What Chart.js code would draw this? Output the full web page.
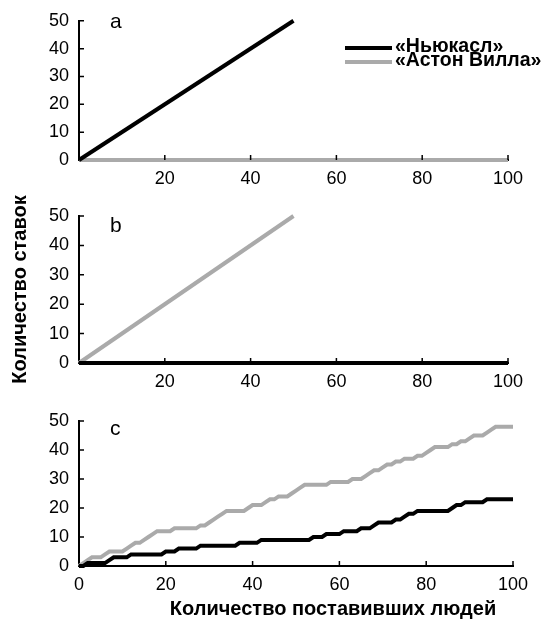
<!DOCTYPE html>
<html>
<head>
<meta charset="utf-8">
<script src="https://cdn.jsdelivr.net/npm/chart.js@4.4.1/dist/chart.umd.min.js"></script>
<style>
  body { margin: 0; background: #fff; }
  #wrap { position: relative; width: 550px; height: 640px; }
  .panel { position: absolute; left: 0; width: 550px; }
</style>
</head>
<body>
<div id="wrap">
  <div class="panel" style="top:0;height:200px"><canvas id="chartA"></canvas></div>
  <div class="panel" style="top:400px;height:240px"><canvas id="chartC"></canvas></div>
  <div class="panel" style="top:170px;height:240px"><canvas id="chartB"></canvas></div>
</div>
<script>
var teamNames = ['«Ньюкасл»', '«Астон Вилла»'];
var teamColors = ['#000000', '#aaaaaa'];
var panelLetters = ['a', 'b', 'c'];
var yTickValues = [0, 10, 20, 30, 40, 50];
var xTickValues = [0, 20, 40, 60, 80, 100];
var yTitle = 'Количество ставок';
var xTitle = 'Количество поставивших людей';

// panels a and b: everyone backs the same team
var allOneTeamX = [0, 50];
var allOneTeamY = [0, 50];
var nobodyX = [0, 100];
var nobodyY = [0, 0];

// panel c: running totals of bets
var people = [0, 1, 2, 3, 4, 5, 6, 7, 8, 9,
  10, 11, 12, 13, 14, 15, 16, 17, 18, 19,
  20, 21, 22, 23, 24, 25, 26, 27, 28, 29,
  30, 31, 32, 33, 34, 35, 36, 37, 38, 39,
  40, 41, 42, 43, 44, 45, 46, 47, 48, 49,
  50, 51, 52, 53, 54, 55, 56, 57, 58, 59,
  60, 61, 62, 63, 64, 65, 66, 67, 68, 69,
  70, 71, 72, 73, 74, 75, 76, 77, 78, 79,
  80, 81, 82, 83, 84, 85, 86, 87, 88, 89,
  90, 91, 92, 93, 94, 95, 96, 97, 98, 99, 100];
var newcastleBets = [0, 0, 1, 1, 1, 1, 1, 2, 3, 3,
  3, 3, 4, 4, 4, 4, 4, 4, 4, 4,
  5, 5, 5, 6, 6, 6, 6, 6, 7, 7,
  7, 7, 7, 7, 7, 7, 7, 8, 8, 8,
  8, 8, 9, 9, 9, 9, 9, 9, 9, 9,
  9, 9, 9, 9, 10, 10, 10, 11, 11, 11,
  11, 12, 12, 12, 12, 13, 13, 13, 14, 15,
  15, 15, 15, 16, 16, 17, 18, 18, 19, 19,
  19, 19, 19, 19, 19, 19, 20, 21, 21, 22,
  22, 22, 22, 22, 23, 23, 23, 23, 23, 23, 23];
var villaBets = [0, 1, 2, 3, 3, 3, 4, 5, 5, 5,
  5, 6, 7, 8, 8, 9, 10, 11, 12, 12,
  12, 12, 13, 13, 13, 13, 13, 13, 14, 14,
  15, 16, 17, 18, 19, 19, 19, 19, 19, 20,
  21, 21, 21, 22, 23, 23, 24, 24, 24, 25,
  26, 27, 28, 28, 28, 28, 28, 28, 29, 29,
  29, 29, 29, 30, 30, 30, 31, 32, 33, 33,
  34, 35, 35, 36, 36, 37, 37, 37, 38, 38,
  39, 40, 41, 41, 41, 41, 42, 42, 43, 43,
  44, 45, 45, 45, 46, 47, 48, 48, 48, 48, 48];

var FONT = "'Liberation Sans', Arial, Helvetica, sans-serif";
Chart.defaults.font.family = FONT;
Chart.defaults.color = '#000';

function points(xs, ys) {
  return xs.map(function (x, i) { return { x: x, y: ys[i] }; });
}

// letters, inward tick marks, legend and x title
var panelDecor = {
  id: 'panelDecor',
  afterDraw: function (chart, args, opts) {
    var ctx = chart.ctx;
    var xs = chart.scales.x, ys = chart.scales.y;
    var area = chart.chartArea;
    ctx.save();
    ctx.strokeStyle = '#000';
    ctx.lineWidth = 1.5;
    ctx.beginPath();
    xTickValues.forEach(function (v) {
      if (v === 0) return;
      var px = xs.getPixelForValue(v);
      ctx.moveTo(px, area.bottom);
      ctx.lineTo(px, area.bottom - 5);
    });
    yTickValues.forEach(function (v) {
      if (v === 0) return;
      var py = ys.getPixelForValue(v);
      ctx.moveTo(area.left, py);
      ctx.lineTo(area.left + 5, py);
    });
    ctx.stroke();

    ctx.fillStyle = '#000';
    ctx.font = '21px ' + FONT;
    ctx.textAlign = 'left';
    ctx.textBaseline = 'alphabetic';
    ctx.fillText(opts.letter, area.left + 31, area.top + opts.letterDy);

    if (opts.legend) {
      ctx.font = 'bold 19.5px ' + FONT;
      ctx.textBaseline = 'middle';
      chart.data.datasets.forEach(function (ds, i) {
        var y = 48 + i * 14;
        ctx.strokeStyle = ds.borderColor;
        ctx.lineWidth = 4;
        ctx.beginPath();
        ctx.moveTo(345, y);
        ctx.lineTo(392, y);
        ctx.stroke();
        ctx.fillText(ds.label, 395, y - 1);
      });
    }
    if (opts.xTitle) {
      ctx.font = 'bold 20px ' + FONT;
      ctx.textAlign = 'center';
      ctx.textBaseline = 'middle';
      ctx.fillText(opts.xTitle, 333, 209);
    }
    ctx.restore();
  }
};

function makePanel(id, idx, newcastle, villa, cfg) {
  var ctx = document.getElementById(id).getContext('2d');
  return new Chart(ctx, {
    type: 'line',
    data: {
      datasets: [{
        label: teamNames[0],
        data: newcastle,
        borderColor: teamColors[0],
        borderWidth: 4,
        pointRadius: 0,
        tension: 0,
        clip: false
      }, {
        label: teamNames[1],
        data: villa,
        borderColor: teamColors[1],
        borderWidth: 4,
        pointRadius: 0,
        tension: 0,
        clip: false
      }]
    },
    options: {
      responsive: true,
      maintainAspectRatio: false,
      animation: false,
      layout: { padding: { top: cfg.padTop, right: cfg.padRight, left: 0, bottom: 0 } },
      scales: {
        x: {
          type: 'linear',
          min: 0,
          max: 100,
          afterBuildTicks: function (s) {
            s.ticks = xTickValues.map(function (v) { return { value: v }; });
          },
          ticks: {
            font: { size: 18 },
            padding: 8,
            maxRotation: 0,
            autoSkip: false,
            callback: function (v) {
              return (cfg.showZero || v !== 0) ? v : '';
            }
          },
          grid: { display: false, drawTicks: false },
          border: { display: true, color: '#000', width: 2 },
          afterFit: function (s) { s.height = cfg.xHeight; }
        },
        y: {
          min: 0,
          max: 50,
          afterBuildTicks: function (s) {
            s.ticks = yTickValues.map(function (v) { return { value: v }; });
          },
          ticks: { font: { size: 18 }, padding: 10 },
          grid: { display: false, drawTicks: false },
          border: { display: true, color: '#000', width: 2 },
          title: {
            display: !!cfg.yTitle,
            text: cfg.yTitle || '',
            font: { size: 20, weight: 'bold' },
            padding: { top: 8, bottom: 0 }
          },
          afterFit: function (s) { s.width = 79; }
        }
      },
      plugins: {
        legend: { display: false },
        tooltip: { enabled: false },
        panelDecor: {
          letter: panelLetters[idx],
          letterDy: cfg.letterDy,
          legend: cfg.legend,
          xTitle: cfg.xTitle
        }
      }
    },
    plugins: [panelDecor]
  });
}

makePanel('chartA', 0, points(allOneTeamX, allOneTeamY), points(nobodyX, nobodyY),
  { padTop: 16, padRight: 42, xHeight: 40, letterDy: 7, legend: true });
makePanel('chartB', 1, points(nobodyX, nobodyY), points(allOneTeamX, allOneTeamY),
  { padTop: 46, padRight: 42, xHeight: 47, letterDy: 16, yTitle: yTitle });
makePanel('chartC', 2, points(people, newcastleBets), points(people, villaBets),
  { padTop: 21, padRight: 37, xHeight: 74, letterDy: 14, showZero: true, xTitle: xTitle });
</script>
</body>
</html>
